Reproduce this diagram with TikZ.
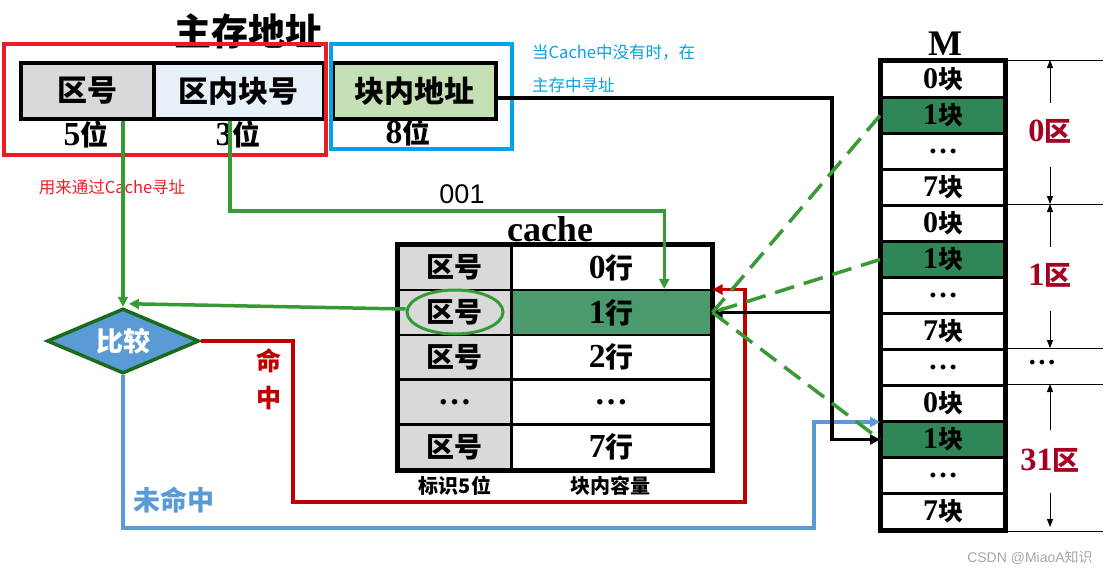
\documentclass[tikz,border=0pt]{standalone}
\usepackage{fontspec}
\setmainfont{Liberation Serif}[Scale=1.2]
\newfontfamily\cjk{Noto Sans CJK SC}
\newfontfamily\asans{Liberation Sans}
\usetikzlibrary{arrows.meta,shapes.geometric,calc}
\newcommand\setfs[1]{\fontsize{#1}{#1}\selectfont}
\definecolor{redbox}{HTML}{ED1C24}
\definecolor{bluebox}{HTML}{00A2E8}
\definecolor{grayfill}{HTML}{D9D9D9}
\definecolor{lblue}{HTML}{E8F0FA}
\definecolor{lgreenfill}{HTML}{C5E0B4}
\definecolor{cgreen}{HTML}{4A9A6E}
\definecolor{mgreen}{HTML}{2F8757}
\definecolor{lgreen}{HTML}{379B35}
\definecolor{dfill}{HTML}{5B9BD5}
\definecolor{dborder}{HTML}{1A6B1A}
\definecolor{hitred}{HTML}{C00000}
\definecolor{missblue}{HTML}{5B9BD5}
\definecolor{regred}{HTML}{A50021}
\begin{document}
\begin{tikzpicture}[x=1pt,y=-1pt,
  abox/.style={draw, line width=3.5pt, minimum height=56pt, inner sep=0pt, anchor=north west, font=\setfs{30}\bfseries\cjk},
  ccell/.style={draw, line width=2.5pt, minimum height=44.8pt, inner sep=0pt, anchor=north west, font=\setfs{28}\bfseries},
  mcell/.style={draw, line width=3pt, minimum width=123pt, minimum height=36pt, inner sep=0pt, anchor=north west, font=\setfs{25}\bfseries},
  glink/.style={draw=lgreen, line width=3.5pt, -{Triangle[length=10pt,width=10pt]}},
  gdash/.style={draw=lgreen, line width=3.5pt, dash pattern=on 20pt off 10pt},
  hitline/.style={draw=hitred, line width=3.5pt, -{Triangle[length=10pt,width=10pt]}},
  missline/.style={draw=missblue, line width=3.5pt, -{Triangle[length=10pt,width=10pt]}},
  kline/.style={draw=black, line width=3.5pt, -{Triangle[length=10pt,width=10pt]}},
  thin/.style={draw=black, line width=0.8pt},
  dimarrow/.style={draw=black, line width=0.8pt, -{Triangle[length=8pt,width=6pt]}},
  lbl/.style={inner sep=0pt}
]
\useasboundingbox (0,0) rectangle (1117,576);

% ---- main memory address ----
\node[lbl, font=\setfs{37}\bfseries\cjk] (title) at (248,31) {主存地址};
\node[abox, fill=grayfill, minimum width=133pt] (a1) at (19,61) {区号};
\node[abox, fill=lblue, minimum width=170pt] (a2) at (152,61) {区内块号};
\node[abox, fill=lgreenfill, minimum width=163pt] (a3) at (331,61) {块内地址};
\node[lbl, font=\setfs{28}\bfseries] (b1) at (86,135) {5\cjk 位};
\node[lbl, font=\setfs{28}\bfseries] (b2) at (238,135) {3\cjk 位};
\node[lbl, font=\setfs{28}\bfseries] (b3) at (408,133) {8\cjk 位};
\draw[draw=redbox, line width=4pt] (4,44) rectangle (326,155);
\draw[draw=bluebox, line width=4pt] (331,44) rectangle (512,149);
\node[lbl, text=redbox, font=\setfs{16.5}\cjk] (note1) at (112,187) {用来通过Cache寻址};
\node[lbl, text=bluebox, font=\setfs{16.5}\cjk, anchor=west] (note2) at (532,52) {当Cache中没有时，在};
\node[lbl, text=bluebox, font=\setfs{16.5}\cjk, anchor=west] (note3) at (532,85) {主存中寻址};
\node[lbl, font=\setfs{27}\asans] (n001) at (462,194) {001};

% ---- cache ----
\node[lbl, font=\setfs{30}\bfseries] (ctitle) at (550,229) {cache};
\node[ccell, fill=grayfill, minimum width=113pt] (c0l) at (397,244) {\cjk 区号};
\node[ccell, minimum width=200pt] (c0r) at (510,244) {0\cjk 行};
\node[ccell, fill=grayfill, minimum width=113pt] (c1l) at (397,288.8) {\cjk 区号};
\node[ccell, fill=cgreen, minimum width=200pt] (c1r) at (510,288.8) {1\cjk 行};
\node[ccell, fill=grayfill, minimum width=113pt] (c2l) at (397,333.6) {\cjk 区号};
\node[ccell, minimum width=200pt] (c2r) at (510,333.6) {2\cjk 行};
\node[ccell, fill=grayfill, minimum width=113pt] (c3l) at (397,378.4) {…};
\node[ccell, minimum width=200pt] (c3r) at (510,378.4) {…};
\node[ccell, fill=grayfill, minimum width=113pt] (c4l) at (397,423.2) {\cjk 区号};
\node[ccell, minimum width=200pt] (c4r) at (510,423.2) {7\cjk 行};
\draw[line width=4pt] (c0l.north west) rectangle (c4r.south east);
\node[draw=lgreen, line width=3pt, ellipse, minimum width=96pt, minimum height=44pt, inner sep=0pt] (ell) at (455,312) {};
\node[lbl, font=\setfs{20}\bfseries] (tag) at (455,486) {\cjk 标识5位};
\node[lbl, font=\setfs{20}\bfseries\cjk] (cap) at (610,486) {块内容量};

% ---- compare ----
\node[diamond, draw=dborder, fill=dfill, line width=3.5pt, minimum width=152pt, minimum height=65pt, aspect=2.34, inner sep=0pt, text=white, font=\setfs{27}\bfseries\cjk] (dia) at (123,341) {比较};

% ---- M ----
\node[lbl, font=\setfs{30}\bfseries] (mtitle) at (945,44) {M};
\node[mcell] (m0) at (880,60) {0\cjk 块};
\node[mcell, fill=mgreen] (m1) at (880,96) {1\cjk 块};
\node[mcell] (m2) at (880,132) {…};
\node[mcell] (m3) at (880,168) {7\cjk 块};
\node[mcell] (m4) at (880,204) {0\cjk 块};
\node[mcell, fill=mgreen] (m5) at (880,240) {1\cjk 块};
\node[mcell] (m6) at (880,276) {…};
\node[mcell] (m7) at (880,312) {7\cjk 块};
\node[mcell] (m8) at (880,348) {…};
\node[mcell] (m9) at (880,384) {0\cjk 块};
\node[mcell, fill=mgreen] (m10) at (880,420) {1\cjk 块};
\node[mcell] (m11) at (880,456) {…};
\node[mcell] (m12) at (880,492) {7\cjk 块};
\draw[line width=4pt] (m0.north west) rectangle (m12.south east);

% region marks
\draw[thin] (m0.north east) -- ++(97,0);
\draw[thin] (m4.north east) -- ++(97,0);
\draw[thin] (m8.north east) -- ++(97,0);
\draw[thin] (m9.north east) -- ++(97,0);
\draw[thin] (m12.south east) -- ++(97,0);
\node[lbl, text=regred, font=\setfs{27}\bfseries] (r0) at (1050,131) {0\cjk 区};
\node[lbl, text=regred, font=\setfs{27}\bfseries] (r1) at (1050,275) {1\cjk 区};
\node[lbl, text=regred, font=\setfs{27}\bfseries] (r31) at (1050,460) {31\cjk 区};
\node[lbl, font=\setfs{24}\bfseries] (rdots) at (1042,363) {…};
\coordinate (z0) at (1050,60);
\coordinate (z1) at (1050,204);
\coordinate (z2) at (1050,348);
\coordinate (z3) at (1050,384);
\coordinate (z4) at (1050,527);
\draw[dimarrow] (1050,103) -- (z0);
\draw[dimarrow] (1050,167) -- (z1);
\draw[dimarrow] (1050,247) -- (z1);
\draw[dimarrow] (1050,311) -- (z2);
\draw[dimarrow] (1050,430) -- (z3);
\draw[dimarrow] (1050,493) -- (z4);

% ---- connectors ----
\draw[glink] (a1.south -| dia.north) -- (dia.north);
\coordinate (g2s) at ($(a2.south)+(-9,0)$);
\coordinate (g2e) at ($(c1r.north)+(53,0)$);
\draw[glink] (g2s) |- ($(g2e)+(0,-78)$) -- (g2e);
\draw[glink] ($(ell.west)+(0,-3)$) -- ($(dia.north)+(6,-3)$);
\coordinate (hr1) at (293,502);
\coordinate (hr2) at (745,289.5);
\draw[hitline] (dia.east) -| (hr1) -| (hr2) -- (c1r.north east |- hr2);
\node[lbl, text=hitred, font=\setfs{25}\bfseries\cjk] (hit1) at (269,361) {命};
\node[lbl, text=hitred, font=\setfs{25}\bfseries\cjk] (hit2) at (269,398) {中};
\coordinate (mb1) at (814,528);
\draw[missline] (dia.south) |- (mb1) |- ($(m10.north west)+(0,2)$);
\node[lbl, text=missblue, font=\setfs{27}\bfseries\cjk] (miss) at (174,500) {未命中};
\coordinate (kx) at (832,0);
\draw[kline] ($(a3.east)+(0,7)$) -| (kx |- m10.west) -- (m10.west);
\draw[kline] (kx |- c1r.east) -- (c1r.east);
\draw[gdash] (m1.west) -- (c1r.east);
\draw[gdash] (m5.west) -- (c1r.east);
\draw[gdash] (c1r.east) -- (m10.west);

\node[lbl, text=gray!70, font=\setfs{14}\asans] (wm) at (1030,558) {CSDN @MiaoA\cjk 知识};
\end{tikzpicture}
\end{document}
